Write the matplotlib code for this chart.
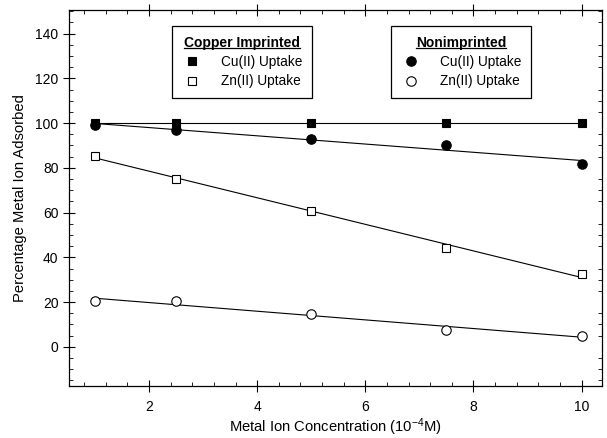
import numpy as np
import matplotlib
matplotlib.use("Agg")
import matplotlib.pyplot as plt
from matplotlib.lines import Line2D
from matplotlib.ticker import MultipleLocator

plt.rcParams['font.family'] = ['Liberation Sans', 'DejaVu Sans']
plt.rcParams['mathtext.fontset'] = 'custom'
plt.rcParams['mathtext.rm'] = 'Liberation Sans'
plt.rcParams['mathtext.it'] = 'Liberation Sans:italic'

conc = [1, 2.5, 5, 7.5, 10]
imp_cu = [100, 100, 100, 100, 100]
imp_zn = [85.5, 75, 60.5, 44, 32.5]
non_cu = [99, 97, 93, 90, 81.5]
non_zn = [20.5, 20.5, 14.5, 7.5, 5]
x_ticks = [2, 4, 6, 8, 10]
y_ticks = [0, 20, 40, 60, 80, 100, 120, 140]

fig = plt.figure(figsize=(6.07, 4.38), dpi=100)
ax = fig.add_axes([0.1137, 0.1187, 0.8783, 0.8583])

x = np.array(conc, dtype=float)
xx = np.array([x.min(), x.max()])
series = [
    (imp_cu, 's', 'black', 'Cu(II) Uptake', 6.0),
    (imp_zn, 's', 'white', 'Zn(II) Uptake', 6.0),
    (non_cu, 'o', 'black', 'Cu(II) Uptake', 6.8),
    (non_zn, 'o', 'white', 'Zn(II) Uptake', 6.8),
]
handles = []
for y, m, fc, lab, ms in series:
    y = np.array(y, dtype=float)
    k, b = np.polyfit(x, y, 1)
    ax.plot(xx, k * xx + b, color='black', lw=0.8, zorder=2)
    ax.plot(x, y, linestyle='none', marker=m, markerfacecolor=fc,
            markeredgecolor='black', markeredgewidth=0.8, markersize=ms, zorder=3)
    handles.append(Line2D([], [], linestyle='none', marker=m, markerfacecolor=fc,
                          markeredgecolor='black', markeredgewidth=0.8,
                          markersize=ms, label=lab))

ax.set_xlim(0.52, 10.38)
ax.set_ylim(-17.5, 150.5)
ax.set_xticks(x_ticks)
ax.set_yticks(y_ticks)
ax.xaxis.set_minor_locator(MultipleLocator(0.4))
ax.yaxis.set_minor_locator(MultipleLocator(5))
ax.tick_params(which='major', direction='inout', length=8, width=0.8,
               labelsize=10, top=True, right=False)
ax.tick_params(which='minor', direction='in', length=3, width=0.6,
               top=True, right=True)
ax.tick_params(axis='x', which='major', pad=6)
for s in ax.spines.values():
    s.set_linewidth(0.9)

ax.set_xlabel('Metal Ion Concentration (10$^{-4}$M)', fontsize=10.6, labelpad=2)
ax.set_ylabel('Percentage Metal Ion Adsorbed', fontsize=10.6, labelpad=6)

def make_legend(hs, title, bbox):
    leg = ax.legend(handles=hs, title=title, loc='upper left',
                    bbox_to_anchor=bbox, bbox_transform=fig.transFigure,
                    fancybox=False, edgecolor='black', framealpha=1,
                    fontsize=9.8, title_fontproperties={'weight': 'bold', 'size': 10},
                    handletextpad=1.4, borderpad=0.7, labelspacing=0.4,
                    handlelength=1.5, borderaxespad=0)
    leg.get_frame().set_linewidth(0.9)
    return leg

leg1 = make_legend(handles[:2], 'Copper Imprinted', (172 / 607, 1 - 26 / 438))
ax.add_artist(leg1)
leg2 = make_legend(handles[2:], 'Nonimprinted', (391 / 607, 1 - 26 / 438))

fig.canvas.draw()
r = fig.canvas.get_renderer()
inv = fig.transFigure.inverted()
for leg in (leg1, leg2):
    bb = leg.get_title().get_window_extent(r)
    (x0, y0), (x1, _) = inv.transform([[bb.x0, bb.y0 + 1.5], [bb.x1, bb.y0]])
    fig.add_artist(Line2D([x0, x1], [y0, y0], transform=fig.transFigure,
                          color='black', lw=0.9))

fig.savefig('out.png', dpi=100)
